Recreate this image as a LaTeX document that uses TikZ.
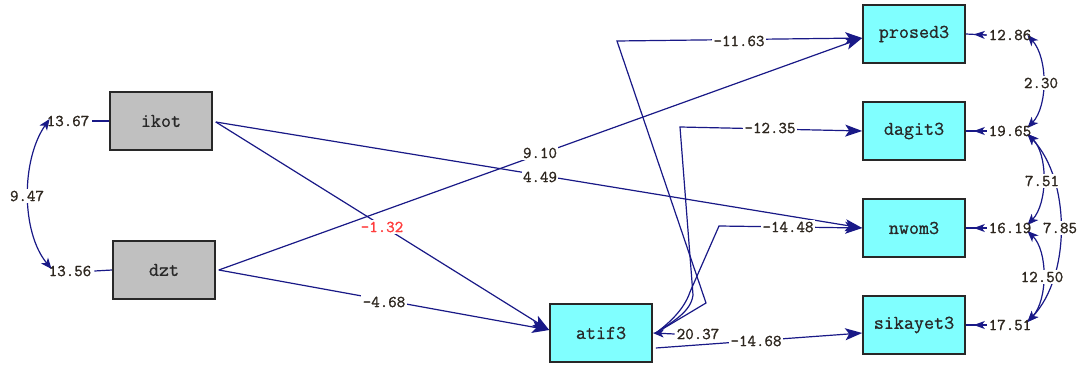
\documentclass[tikz,border=0pt]{standalone}
\usepackage{fontspec}
\usetikzlibrary{arrows.meta,calc,backgrounds}
\definecolor{pathblue}{RGB}{25,25,135}
\definecolor{boxcyan}{RGB}{128,255,255}
\definecolor{boxgray}{RGB}{192,192,192}
\definecolor{boxedge}{RGB}{40,40,40}
\definecolor{numcol}{RGB}{45,38,30}
\definecolor{numred}{RGB}{255,60,60}
\newfontfamily\numfam[FakeBold=1.2]{Latin Modern Mono}
\newfontfamily\boxfam[FakeBold=0.8]{Latin Modern Mono}
\newcommand\boxfont{\boxfam\fontsize{19.5}{20}\selectfont}
\newcommand\numfont{\numfam\fontsize{16.5}{17}\selectfont}
\begin{document}
\begin{tikzpicture}[x=1pt,y=-1pt,
  obs/.style={draw=boxedge, line width=1.6pt, minimum width=102pt, minimum height=58pt, inner sep=0pt, font=\boxfont, text=boxedge},
  exo/.style={obs, fill=boxgray},
  endo/.style={obs, fill=boxcyan},
  num/.style={font=\numfont, text=numcol, inner sep=0pt},
  lab/.style={num, fill=white, inner sep=1.5pt},
  conn/.style={draw=pathblue, line width=1.2pt},
  arr/.style={conn, -{Stealth[length=17pt,width=12pt,inset=4pt]}},
  errarr/.style={conn, -{Stealth[length=11pt,width=8pt,inset=3pt]}},
  dbl/.style={conn, {Stealth[length=11pt,width=9pt,inset=3pt]}-{Stealth[length=11pt,width=9pt,inset=3pt]}}]
\useasboundingbox (0,0) rectangle (1088,369);
% variables
\node[exo] (ikot) at (161,121) {ikot};
\node[exo] (dzt) at (164,270) {dzt};
\node[endo] (atif3) at (601,333) {atif3};
\node[endo] (prosed3) at (914,34) {prosed3};
\node[endo] (dagit3) at (914,131) {dagit3};
\node[endo] (nwom3) at (914,228) {nwom3};
\node[endo] (sikayet3) at (914,325) {sikayet3};
% variances
\node[num] (eikot) at (68,121) {13.67};
\node[num] (edzt) at (70,271) {13.56};
\node[num] (eatif) at (698,334) {20.37};
\node[num] (epro) at (1010,35) {12.86};
\node[num] (edag) at (1010,131) {19.65};
\node[num] (enwom) at (1010,228) {16.19};
\node[num] (esik) at (1010,325) {17.51};
% covariance labels
\node[lab] (l947) at (27,196) {9.47};
\node[lab] (l230) at (1041,83) {2.30};
\node[lab] (l751) at (1042,181) {7.51};
\node[lab] (l785) at (1060,228) {7.85};
\node[lab] (l1250) at (1042,277) {12.50};
% path labels
\node[lab] (l1163) at (739,41) {-11.63};
\node[lab] (l1235) at (770,128) {-12.35};
\node[lab] (l1448) at (788,227) {-14.48};
\node[lab] (l1468) at (756,341) {-14.68};
\node[lab] (l910) at (540,153) {9.10};
\node[lab] (l449) at (540,177) {4.49};
\node[lab, text=numred] (l132) at (382,227) {-1.32};
\node[lab] (l468) at (384,302) {-4.68};
% bends
\coordinate (a1) at (706,303);
\coordinate (a2) at (617,41);
\coordinate (b1) at (693,295);
\coordinate (b2) at (680,127);
\coordinate (c1) at (690,292);
\coordinate (c2) at (719,226);
\begin{scope}[on background layer]
\fill[white] (0,0) rectangle (1088,369);
% exogenous variance ticks
\draw[conn] ([xshift=3pt]eikot.east) -- (ikot.west);
\draw[conn] ([xshift=3pt]edzt.east) -- (dzt.west);
\draw[dbl] ([xshift=3pt,yshift=2pt]eikot.west) .. controls (21,160) and (21,232) .. ([xshift=3pt,yshift=2pt]edzt.west);
% error arrows
\draw[errarr] ([xshift=-2pt]eatif.west) -- (atif3.east);
\foreach \e/\v in {epro/prosed3, edag/dagit3, enwom/nwom3, esik/sikayet3}{
  \draw[conn] (\v.east) -- ([xshift=-2pt]\e.west);
  \draw[errarr, shorten >=8pt] ([xshift=-2pt]\e.west) -- (\v.east);
}
% error covariances
\draw[dbl] ([xshift=-4pt]epro.east) .. controls (1048,58) and (1048,106) .. ([xshift=-4pt,yshift=3pt]edag.east);
\draw[dbl] ([xshift=-4pt,yshift=-3pt]edag.east) .. controls (1048,154) and (1048,203) .. ([xshift=-4pt,yshift=3pt]enwom.east);
\draw[dbl] ([xshift=-4pt,yshift=-3pt]edag.east) .. controls (1071,180) and (1071,276) .. ([xshift=-4pt,yshift=3pt]esik.east);
\draw[dbl] ([xshift=-4pt,yshift=-3pt]enwom.east) .. controls (1048,251) and (1048,300) .. ([xshift=-4pt,yshift=3pt]esik.east);
% structural paths
\draw[arr] ([xshift=3pt,yshift=-1pt]ikot.east) -- ([yshift=3pt]atif3.west);
\draw[arr] ([xshift=3pt,yshift=-1pt]ikot.east) -- (nwom3.west);
\draw[arr] ([xshift=3pt]dzt.east) -- ([yshift=3pt]atif3.west);
\draw[arr] ([xshift=3pt]dzt.east) -- ([yshift=-4pt]prosed3.west);
\draw[arr] ([xshift=3pt]atif3.east) -- (a1) -- (a2) -- ([yshift=-4pt]prosed3.west);
\draw[arr] ([xshift=3pt]atif3.east) .. controls (672,322) and (691,312) .. (b1) -- (b2) -- (dagit3.west);
\draw[arr] ([xshift=3pt]atif3.east) .. controls (668,324) and (684,310) .. (c1) -- (c2) -- (nwom3.west);
\draw[arr] ([xshift=3pt,yshift=-15pt]atif3.east) -- ([yshift=-8pt]sikayet3.west);
\end{scope}
\end{tikzpicture}
\end{document}
